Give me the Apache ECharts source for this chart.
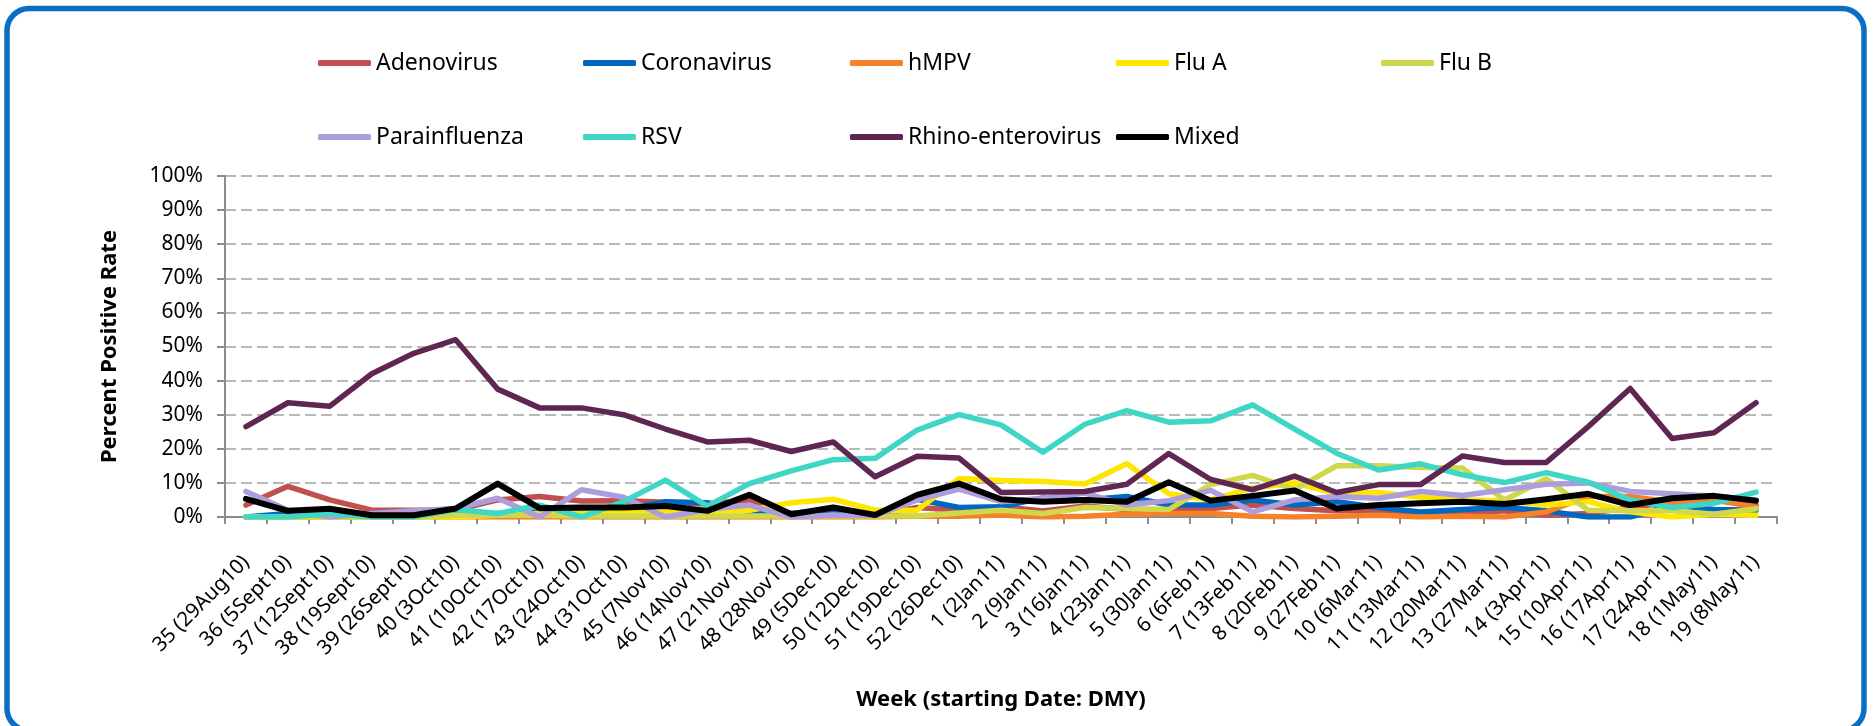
<!DOCTYPE html>
<html>
<head>
<meta charset="utf-8">
<title>Percent Positive Rate by week</title>
<script src="https://cdn.jsdelivr.net/npm/echarts@6/dist/echarts.min.js"></script>
<style>
  html, body { margin: 0; padding: 0; background: #fff; }
  #chart { width: 1873px; height: 726px; }
</style>
</head>
<body>
<div id="chart"></div>
<script>
// week labels (x axis)
const weeks = [
  '35 (29Aug10)', '36 (5Sept10)', '37 (12Sept10)', '38 (19Sept10)', '39 (26Sept10)',
  '40 (3Oct10)', '41 (10Oct10)', '42 (17Oct10)', '43 (24Oct10)', '44 (31Oct10)',
  '45 (7Nov10)', '46 (14Nov10)', '47 (21Nov10)', '48 (28Nov10)', '49 (5Dec10)',
  '50 (12Dec10)', '51 (19Dec10)', '52 (26Dec10)', '1 (2Jan11)', '2 (9Jan11)',
  '3 (16Jan11)', '4 (23Jan11)', '5 (30Jan11)', '6 (6Feb11)', '7 (13Feb11)',
  '8 (20Feb11)', '9 (27Feb11)', '10 (6Mar11)', '11 (13Mar11)', '12 (20Mar11)',
  '13 (27Mar11)', '14 (3Apr11)', '15 (10Apr11)', '16 (17Apr11)', '17 (24Apr11)',
  '18 (1May11)', '19 (8May11)'
];

// percent positive
const adenovirus = [3.5, 9, 5, 2, 2, 2, 5, 6, 4.7, 4.8, 4.3, 3.8, 5, 1, 0.5, 0.5, 2.8, 2, 3, 1.8, 3.2, 2.2, 2, 2.5, 3.5, 2.5, 1.8, 2, 1, 1, 1.8, 0.5, 1, 2.8, 4.5, 5, 3.5];
const coronavirus = [0, 1, 1, 0.3, 0.3, 0.5, 1, 1.5, 1.8, 2.2, 4.5, 4.2, 1.5, 1, 2.2, 0.5, 5.2, 2.8, 3, 5.6, 5, 6, 3.5, 3.5, 5, 3.5, 4.5, 2.8, 1.5, 2.2, 2.8, 1.8, 0, 0, 3.5, 2.2, 2];
const hmpv = [0, 0, 0, 0, 0, 0, 0, 0, 0, 0, 0, 0, 0, 0, 0, 0, 0.2, 0.2, 0.6, 0, 0.2, 0.8, 1, 1, 0.2, 0, 0.2, 0.5, 0, 0.2, 0, 1.5, 6, 6, 4.3, 5, 2.9];
const fluA = [0, 0, 0, 0, 0, 0, 0.5, 1, 1, 1.5, 1.5, 1.5, 2, 4.2, 5.2, 2, 2, 11.3, 10.7, 10.4, 9.7, 15.6, 6.8, 5, 8.5, 10, 6.8, 7.2, 5.8, 5, 4.8, 3.5, 4.5, 1.5, 0, 0.8, 0.5];
const fluB = [0, 0, 0, 0, 0, 0.5, 0.5, 0.5, 0.3, 0.3, 0.3, 0.3, 0.3, 0.3, 0.3, 0.3, 0.3, 1.2, 2, 1, 2.8, 2.5, 2.2, 9.5, 12.2, 8, 15, 15, 14.5, 14.4, 5, 11.2, 2, 1.8, 1.8, 0.8, 2.4];
const parainfluenza = [7.5, 2, 0, 1, 1.8, 2.5, 5.5, 0, 8, 5.8, 0, 2.2, 3.5, 0, 0.5, 0.5, 5, 8.2, 4.5, 5.5, 7, 3.5, 4.8, 7.8, 1.5, 5, 6, 5.5, 7.5, 6.3, 8, 9.6, 10, 7.5, 6.8, 6.1, 5];
const rsv = [0, 0, 1, 0, 0, 2.2, 1, 3.5, 0, 4.5, 10.8, 3.2, 9.8, 13.5, 16.8, 17.2, 25.5, 30, 27, 19, 27.2, 31.2, 27.8, 28.2, 32.9, 25.8, 18.7, 13.8, 15.6, 12.4, 10.1, 13, 10.2, 5, 2.8, 4, 7.3];
const rhino = [26.5, 33.5, 32.5, 42, 48, 52, 37.5, 32, 32, 30, 25.8, 22, 22.5, 19.2, 22, 11.8, 17.8, 17.3, 7.2, 7.3, 7.5, 9.6, 18.6, 11, 8, 12, 7.2, 9.5, 9.5, 17.9, 16, 16, 26.5, 37.7, 23, 24.7, 33.5];
const mixed = [5.3, 1.8, 2.4, 0.5, 0.5, 2.5, 9.8, 2.6, 2.8, 2.8, 3.2, 1.8, 6.5, 0.8, 2.8, 0.6, 6.5, 9.8, 5.2, 4.5, 5, 4.5, 10.2, 4.8, 6.2, 7.8, 2.5, 3.5, 4, 4.5, 3.8, 5.2, 6.8, 3.5, 5.5, 6.2, 4.8];

const yTicks = [0, 10, 20, 30, 40, 50, 60, 70, 80, 90, 100];

const seriesList = [
  { name: 'Adenovirus', data: adenovirus, color: '#C0504D' },
  { name: 'Coronavirus', data: coronavirus, color: '#0068C0' },
  { name: 'hMPV', data: hmpv, color: '#F5822A' },
  { name: 'Flu A', data: fluA, color: '#FFE600' },
  { name: 'Flu B', data: fluB, color: '#CFD84C' },
  { name: 'Parainfluenza', data: parainfluenza, color: '#AE9DDD' },
  { name: 'RSV', data: rsv, color: '#3ED6C5' },
  { name: 'Rhino-enterovirus', data: rhino, color: '#5E2650' },
  { name: 'Mixed', data: mixed, color: '#000000' }
];

const font = '"Noto Sans", "DejaVu Sans", sans-serif';
// legend laid out as a 5-column grid, like the original
const legendCols = [313, 578, 845, 1111, 1376];
const legendRows = [44, 118];

const chart = echarts.init(document.getElementById('chart'));
const option = {
  animation: false,
  textStyle: { fontFamily: font },
  legend: seriesList.map((s, i) => ({
    data: [s.name],
    left: legendCols[i % 5],
    top: legendRows[Math.floor(i / 5)],
    icon: 'roundRect',
    itemWidth: 53,
    itemHeight: 6,
    selectedMode: false,
    textStyle: { fontSize: 23, color: '#000', fontFamily: font, lineHeight: 28 }
  })),
  grid: { left: 225, top: 176, width: 1552, height: 341 },
  xAxis: {
    type: 'category',
    data: weeks,
    boundaryGap: true,
    name: 'Week (starting Date: DMY)',
    nameLocation: 'middle',
    nameGap: 172,
    nameTextStyle: { fontSize: 22, fontWeight: 'bold', color: '#000', fontFamily: font },
    axisLine: { lineStyle: { color: '#8C8C8C', width: 2 } },
    axisTick: { show: true, length: 7, lineStyle: { color: '#8C8C8C', width: 2 } },
    axisLabel: { interval: 0, rotate: 45, fontSize: 20.5, color: '#000', margin: 42, fontFamily: font }
  },
  yAxis: {
    type: 'value',
    min: yTicks[0],
    max: yTicks[yTicks.length - 1],
    interval: 10,
    name: 'Percent Positive Rate',
    nameLocation: 'middle',
    nameGap: 104,
    nameTextStyle: { fontSize: 22, fontWeight: 'bold', color: '#000', fontFamily: font },
    axisLine: { show: true, lineStyle: { color: '#8C8C8C', width: 2 } },
    axisTick: { show: true, length: 8, lineStyle: { color: '#8C8C8C', width: 2 } },
    axisLabel: { formatter: '{value}%', fontSize: 21, color: '#000', margin: 22, fontFamily: font },
    splitLine: { show: true, lineStyle: { color: '#B8B8B8', width: 2, type: [11, 5] } }
  },
  series: seriesList.map(s => ({
    name: s.name,
    type: 'line',
    data: s.data,
    symbol: 'none',
    color: s.color,
    lineStyle: { color: s.color, width: s.name === 'Mixed' ? 6 : 5.5, cap: 'round', join: 'round' },
    emphasis: { disabled: true }
  })),
  graphic: [
    {
      type: 'rect',
      shape: { x: 7, y: 8.5, width: 1857, height: 722, r: 22 },
      style: { fill: 'none', stroke: '#0A6EC4', lineWidth: 5.5 },
      silent: true
    }
  ]
};
chart.setOption(option);
</script>
</body>
</html>
